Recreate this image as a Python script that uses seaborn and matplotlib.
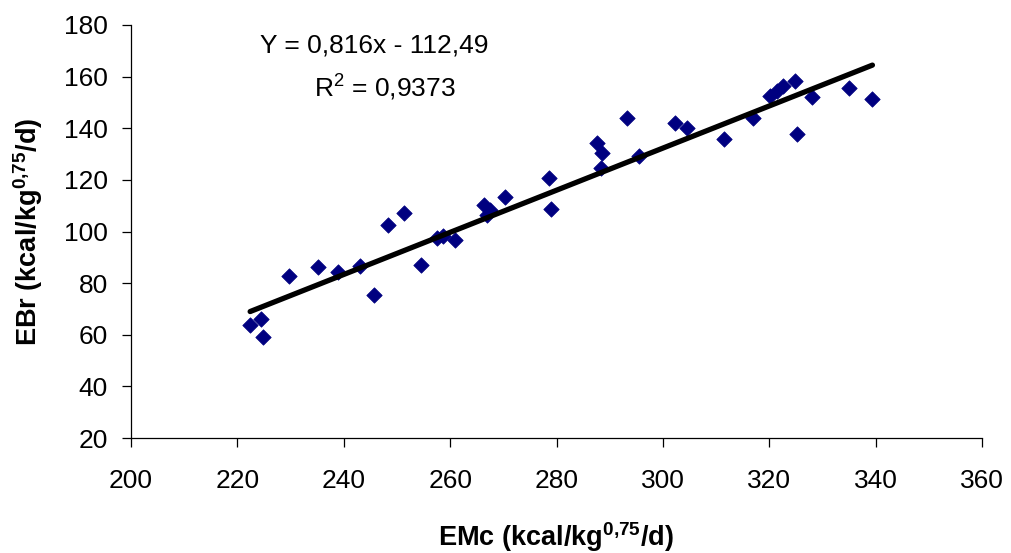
import matplotlib
matplotlib.use("Agg")
import matplotlib.pyplot as plt
import seaborn as sns
import numpy as np
import pandas as pd

# Data
emc = [222.4, 224.4, 224.8, 229.8, 235.2, 239.0, 243.1, 245.7, 248.4, 251.4,
       254.5, 257.5, 258.7, 260.9, 266.4, 267.0, 267.5, 270.4, 278.6, 278.9,
       287.6, 288.6, 288.4, 293.3, 295.5, 302.2, 304.5, 311.4, 317.0, 320.2,
       321.5, 322.5, 324.8, 325.3, 328.0, 335.0, 339.4]
ebr = [63.8, 66.1, 59.1, 82.7, 86.4, 84.4, 86.6, 75.4, 102.5, 107.3,
       87.0, 97.4, 98.2, 96.7, 110.3, 106.4, 108.3, 113.5, 120.7, 108.6,
       134.2, 130.5, 124.5, 144.1, 129.4, 142.2, 140.0, 135.8, 144.1, 152.5,
       154.5, 156.5, 158.3, 137.8, 152.2, 155.7, 151.2]

# Trend line coefficients as printed on the chart
slope = 0.816
intercept = -112.49
equation_text = "Y = 0,816x - 112,49"
r2_text = "R$^2$ = 0,9373"

x_ticks = [200, 220, 240, 260, 280, 300, 320, 340, 360]
y_ticks = [20, 40, 60, 80, 100, 120, 140, 160, 180]

sns.set_theme(style="white")
plt.rcParams["font.family"] = ["Liberation Sans", "DejaVu Sans"]
plt.rcParams["mathtext.fontset"] = "custom"
plt.rcParams["mathtext.rm"] = "Liberation Sans"
plt.rcParams["mathtext.it"] = "Liberation Sans:italic"
plt.rcParams["mathtext.bf"] = "Liberation Sans:bold"
plt.rcParams["text.color"] = "black"
plt.rcParams["axes.labelcolor"] = "black"

df = pd.DataFrame({"EMc": emc, "EBr": ebr})
line_x = [min(emc), max(emc)]
line_df = pd.DataFrame({"x": line_x, "y": [slope * v + intercept for v in line_x]})

fig = plt.figure(figsize=(10.11, 5.53), dpi=100)
ax = fig.add_axes([131 / 1011, 1 - 438 / 553, (982 - 131) / 1011, (438 - 25) / 553])

sns.scatterplot(data=df, x="EMc", y="EBr", marker="D", s=62, color="#000080",
                edgecolor="#000080", linewidth=0.5, ax=ax, zorder=2)
sns.lineplot(data=line_df, x="x", y="y", color="black", linewidth=3.8, ax=ax,
             zorder=3, solid_capstyle="round")

ax.set_xlim(200, 360)
ax.set_ylim(20, 180)
ax.set_xticks(x_ticks)
ax.set_yticks(y_ticks)
ax.tick_params(axis="both", which="major", direction="out", length=6.5, width=0.9,
               color="black", labelsize=19, labelcolor="black", bottom=True, left=True)
ax.tick_params(axis="x", pad=16)
ax.tick_params(axis="y", pad=10)

for side in ["top", "right"]:
    ax.spines[side].set_visible(False)
for side in ["left", "bottom"]:
    ax.spines[side].set_color("black")
    ax.spines[side].set_linewidth(0.9)

ax.set_xlabel(r"EMc (kcal/kg$^{\mathbf{0{,}75}}$/d)", fontsize=19.5, fontweight="bold")
ax.set_ylabel(r"EBr (kcal/kg$^{\mathbf{0{,}75}}$/d)", fontsize=19.5, fontweight="bold")
ax.xaxis.set_label_coords(0.5, -0.2)
ax.yaxis.set_label_coords(-0.101, 0.5)

fig.text(374 / 1011, 1 - 45 / 553, equation_text, fontsize=19, ha="center", va="center")
fig.text(385 / 1011, 1 - 88 / 553, r2_text, fontsize=19, ha="center", va="center")

fig.savefig("out.png", dpi=100, facecolor="white")
